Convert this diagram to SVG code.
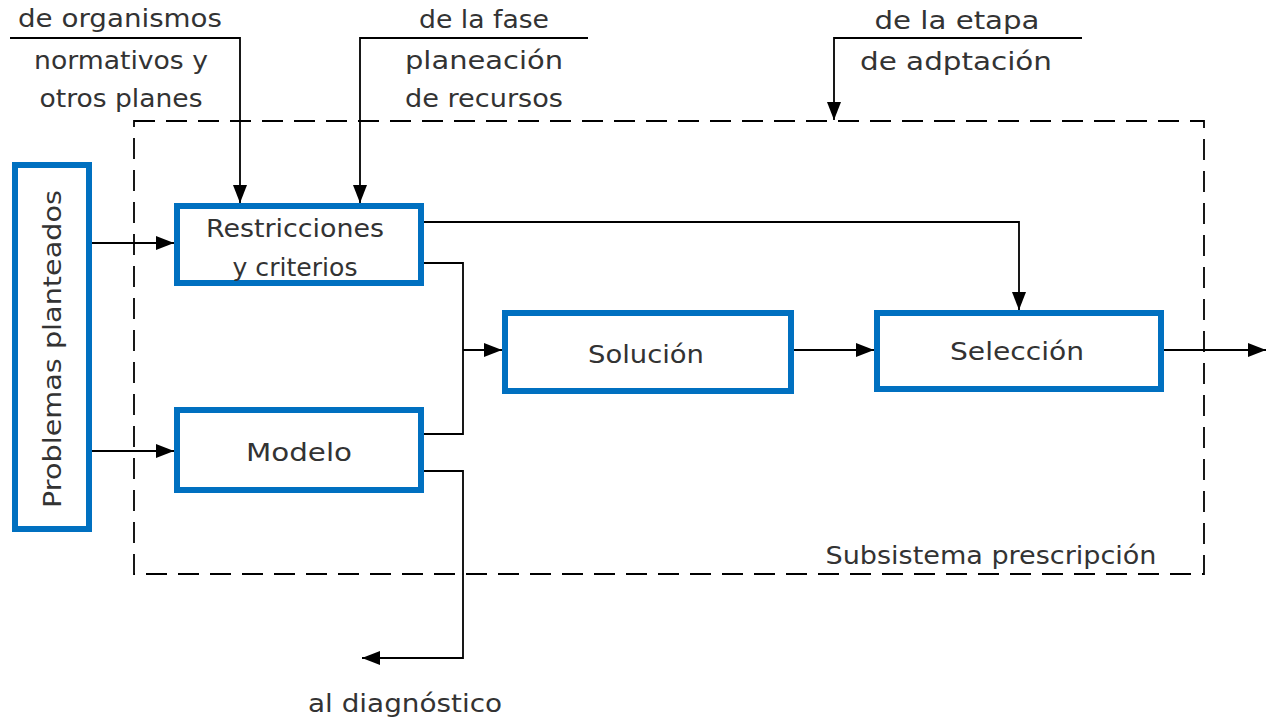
<svg xmlns="http://www.w3.org/2000/svg" width="1273" height="721" viewBox="0 0 1273 721">
<defs>
<marker id="ah" viewBox="0 0 18 14" refX="18" refY="7" markerWidth="18" markerHeight="14" markerUnits="userSpaceOnUse" orient="auto">
<path d="M0,0 L18,7 L0,14 Z" fill="#000"/>
</marker>
</defs>
<style>
.node{fill:#fff;stroke:#0070C0;stroke-width:6}
.t{font-family:"DejaVu Sans","Liberation Sans",Arial,sans-serif;font-size:24px;fill:#333;text-anchor:middle}
.c{fill:none;stroke:#000;stroke-width:1.8}
.a{marker-end:url(#ah)}
</style>
<rect width="1273" height="721" fill="#fff"/>
<g id="subsistema">
<rect x="134" y="121" width="1070" height="453" fill="none" stroke="#000" stroke-width="1.8" stroke-dasharray="21,11"/>
<text class="t" x="991" y="564" textLength="331" lengthAdjust="spacingAndGlyphs">Subsistema prescripción</text>
</g>
<g id="problemas">
<rect class="node" x="15" y="165" width="74" height="364"/>
<text class="t" transform="translate(61,349) rotate(-90)" textLength="318" lengthAdjust="spacingAndGlyphs">Problemas planteados</text>
</g>
<g id="restricciones">
<rect class="node" x="177" y="206" width="244" height="77"/>
<text class="t" x="295" y="237" textLength="178" lengthAdjust="spacingAndGlyphs">Restricciones</text>
<text class="t" x="295" y="276" textLength="125" lengthAdjust="spacingAndGlyphs">y criterios</text>
</g>
<g id="modelo">
<rect class="node" x="177" y="410" width="244" height="80"/>
<text class="t" x="299" y="461" textLength="106" lengthAdjust="spacingAndGlyphs">Modelo</text>
</g>
<g id="solucion">
<rect class="node" x="505" y="313" width="286" height="78"/>
<text class="t" x="646" y="363" textLength="116" lengthAdjust="spacingAndGlyphs">Solución</text>
</g>
<g id="seleccion">
<rect class="node" x="877" y="313" width="284" height="76"/>
<text class="t" x="1017" y="360" textLength="134" lengthAdjust="spacingAndGlyphs">Selección</text>
</g>
<g id="labels">
<text class="t" x="120" y="27" textLength="204" lengthAdjust="spacingAndGlyphs">de organismos</text>
<text class="t" x="121" y="69" textLength="174" lengthAdjust="spacingAndGlyphs">normativos y</text>
<text class="t" x="121" y="107" textLength="163" lengthAdjust="spacingAndGlyphs">otros planes</text>
<text class="t" x="484" y="28" textLength="130" lengthAdjust="spacingAndGlyphs">de la fase</text>
<text class="t" x="484" y="69" textLength="158" lengthAdjust="spacingAndGlyphs">planeación</text>
<text class="t" x="484" y="107" textLength="158" lengthAdjust="spacingAndGlyphs">de recursos</text>
<text class="t" x="957" y="29" textLength="165" lengthAdjust="spacingAndGlyphs">de la etapa</text>
<text class="t" x="956" y="70" textLength="192" lengthAdjust="spacingAndGlyphs">de adptación</text>
<text class="t" x="405" y="712" textLength="194" lengthAdjust="spacingAndGlyphs">al diagnóstico</text>
</g>
<g id="connectors">
<path class="c a" d="M92,243 H174"/>
<path class="c a" d="M92,451 H174"/>
<path class="c a" d="M10,38 H240 V203"/>
<path class="c a" d="M588,38 H360 V203"/>
<path class="c a" d="M1082,38 H834 V120"/>
<path class="c a" d="M424,222 H1019 V310"/>
<path class="c" d="M424,263 H463 V434 H424"/>
<path class="c a" d="M463,350 H502"/>
<path class="c a" d="M424,471 H463 V658 H362"/>
<path class="c a" d="M794,350 H874"/>
<path class="c a" d="M1164,350 H1266"/>
</g>
</svg>
